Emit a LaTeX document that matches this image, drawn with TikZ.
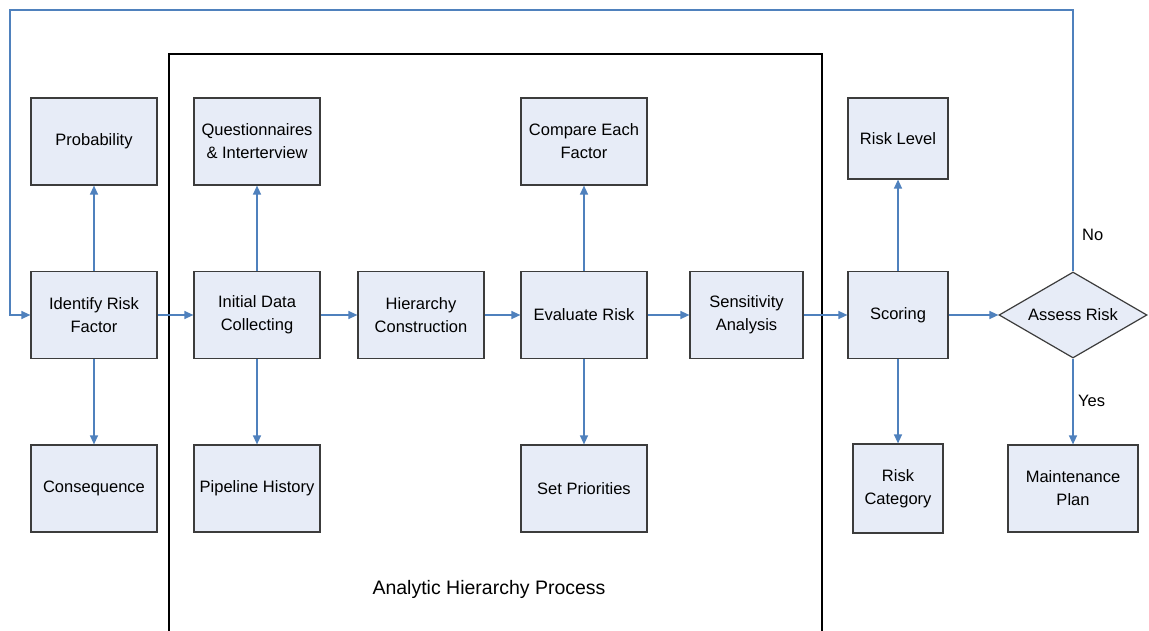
\documentclass[tikz,border=0pt]{standalone}
\usepackage{fontspec}
\setmainfont{Liberation Sans}
\usetikzlibrary{arrows.meta,shapes.geometric}
\definecolor{boxfill}{RGB}{231,236,247}
\definecolor{boxline}{RGB}{60,60,60}
\definecolor{flow}{RGB}{79,129,189}
\begin{document}
\begin{tikzpicture}[x=1pt,y=-1pt,
  box/.style={draw=boxline,line width=1.2pt,fill=boxfill,inner sep=2pt,align=center,
    font=\fontsize{16.5}{23}\selectfont},
  decision/.style={diamond,draw=boxline,line width=1.2pt,fill=boxfill,inner sep=0pt,
    minimum width=148pt,minimum height=86pt,aspect=1.72,font=\fontsize{16.5}{23}\selectfont},
  arr/.style={draw=flow,line width=1.3pt,-{Triangle[length=9pt,width=8pt]}},
  lbl/.style={font=\fontsize{16.5}{23}\selectfont,inner sep=0pt}]
\useasboundingbox (0,0) rectangle (1149,631);
\fill[white] (0,0) rectangle (1149,631);

% frame of the AHP stage, open at the bottom
\draw[black,line width=1.4pt] (169,640) -- (169,54) -- (822,54) -- (822,640);
\node[inner sep=0pt,font=\fontsize{19.5}{23}\selectfont] (ahp) at (489,589) {Analytic Hierarchy Process};

% boxes: width x height in pt, placed at their centres
\node[box,minimum width=126pt,minimum height=87pt] (prob)   at (94,141.5) {Probability};
\node[box,minimum width=126pt,minimum height=87pt] (ident)  at (94,315)   {Identify Risk\\Factor};
\node[box,minimum width=126pt,minimum height=87pt] (cons)   at (94,488.5) {Consequence};

\node[box,minimum width=126pt,minimum height=87pt] (quest)  at (257,141.5) {Questionnaires\\\& Interterview};
\node[box,minimum width=126pt,minimum height=87pt] (init)   at (257,315)   {Initial Data\\Collecting};
\node[box,minimum width=126pt,minimum height=87pt] (pipe)   at (257,488.5) {Pipeline History};

\node[box,minimum width=126pt,minimum height=87pt] (hier)   at (421,315)   {Hierarchy\\Construction};

\node[box,minimum width=126pt,minimum height=87pt] (comp)   at (584,141.5) {Compare Each\\Factor};
\node[box,minimum width=126pt,minimum height=87pt] (eval)   at (584,315)   {Evaluate Risk};
\node[box,minimum width=126pt,minimum height=87pt] (prio)   at (584,488.5) {Set Priorities};

\node[box,minimum width=113pt,minimum height=87pt] (sens)   at (746.5,315) {Sensitivity\\Analysis};

\node[box,minimum width=100pt,minimum height=81pt] (level)  at (898,138.5) {Risk Level};
\node[box,minimum width=100pt,minimum height=87pt] (score)  at (898,315)   {Scoring};
\node[box,minimum width=90pt,minimum height=89pt]  (categ)  at (898,488.5) {Risk\\Category};

\node[decision] (assess) at (1073,315) {Assess Risk};
\node[box,minimum width=130pt,minimum height=87pt] (maint)  at (1073,488.5) {Maintenance\\Plan};

\node[lbl,anchor=west] (no)  at (1082,235) {No};
\node[lbl,anchor=west] (yes) at (1078,401) {Yes};

% return path from the decision back to the start
\coordinate (fbA) at (1073,10);
\coordinate (fbB) at (10,10);
\coordinate (fbC) at (10,315);

% connectors
\draw[arr] (ident) -- (prob);
\draw[arr] (ident) -- (cons);
\draw[arr] (ident) -- (init);
\draw[arr] (init) -- (quest);
\draw[arr] (init) -- (pipe);
\draw[arr] (init) -- (hier);
\draw[arr] (hier) -- (eval);
\draw[arr] (eval) -- (comp);
\draw[arr] (eval) -- (prio);
\draw[arr] (eval) -- (sens);
\draw[arr] (sens) -- (score);
\draw[arr] (score) -- (level);
\draw[arr] (score) -- (categ);
\draw[arr] (score) -- (assess);
\draw[arr] (assess) -- (maint);
\draw[arr] (assess.north) -- (fbA) -- (fbB) -- (fbC) -- (ident.west);
\end{tikzpicture}
\end{document}
